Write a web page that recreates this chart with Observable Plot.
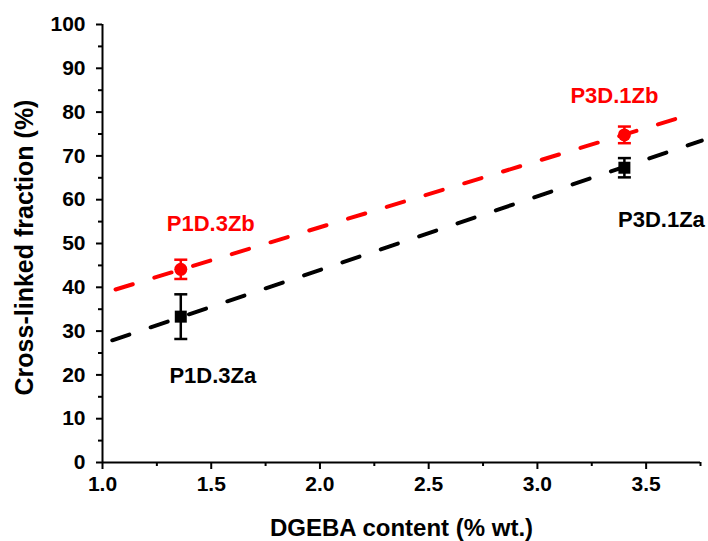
<!DOCTYPE html>
<html>
<head>
<meta charset="utf-8">
<script src="https://cdn.jsdelivr.net/npm/d3@7"></script>
<script src="https://cdn.jsdelivr.net/npm/@observablehq/plot@0.6"></script>
<style>
  html, body { margin: 0; padding: 0; background: #fff; }
  #chart svg { display: block; }
</style>
</head>
<body>
<div id="chart"></div>
<script>
// ---- data ----
const samples  = ["P1D.3Za", "P3D.1Za", "P1D.3Zb", "P3D.1Zb"];
const dgeba    = [1.36, 3.40, 1.36, 3.40];
const fraction = [33.3, 67.3, 44.1, 74.8];
const errors   = [5.1, 2.2, 2.2, 1.9];
const series   = ["a", "a", "b", "b"];

const fitAx = [1.045, 3.756];
const fitAy = [27.9, 73.5];
const fitBx = [1.06, 3.64];
const fitBy = [39.5, 78.5];

const xMajor = [1.0, 1.5, 2.0, 2.5, 3.0, 3.5];
const xMinor = [1.25, 1.75, 2.25, 2.75, 3.25, 3.75];
const yMajor = [0, 10, 20, 30, 40, 50, 60, 70, 80, 90, 100];
const yMinor = [5, 15, 25, 35, 45, 55, 65, 75, 85, 95];

const xTitle = "DGEBA content (% wt.)";
const yTitle = "Cross-linked fraction (%)";

// ---- build ----
const points = samples.map((s, i) => ({sample: s, x: dgeba[i], y: fraction[i], e: errors[i], series: series[i]}));
const fitA = fitAx.map((x, i) => ({x, y: fitAy[i]}));
const fitB = fitBx.map((x, i) => ({x, y: fitBy[i]}));
const colorOf = d => d.series === "b" ? "#ff0000" : "#000000";

const capSymbol = {
  draw(ctx, size) {
    const w = Math.sqrt(size / Math.PI);
    ctx.moveTo(-w, 0);
    ctx.lineTo(w, 0);
  }
};
const squareSymbol = {
  draw(ctx, size) {
    const w = Math.sqrt(size / Math.PI);
    ctx.rect(-w, -w, 2 * w, 2 * w);
  }
};

const A = points.filter(d => d.series === "a");
const B = points.filter(d => d.series === "b");
const lbl = name => points.filter(d => d.sample === name);
const labelStyle = {x: "x", y: "y", text: "sample", fontSize: 22, fontWeight: "bold", lineAnchor: "middle"};

const chart = Plot.plot({
  width: 708,
  height: 541,
  marginLeft: 102,
  marginRight: 8,
  marginTop: 24,
  marginBottom: 79,
  style: {fontFamily: "Arial, 'Liberation Sans', sans-serif", fontWeight: "bold", fontSize: "21px", color: "#000", background: "#fff"},
  x: {domain: [1, 3.75], axis: null},
  y: {domain: [0, 100], axis: null},
  marks: [
    // axes
    Plot.axisX({ticks: xMajor, tickSize: 7, tickPadding: 7, strokeWidth: 2, tickFormat: d3.format(".1f"), label: null, fontSize: 21}),
    Plot.axisX({ticks: xMinor, tickSize: 4, strokeWidth: 2, tickFormat: () => "", label: null}),
    Plot.axisY({ticks: yMajor, tickSize: 6, tickPadding: 11, strokeWidth: 2, tickFormat: d3.format("d"), label: null, fontSize: 21}),
    Plot.axisY({ticks: yMinor, tickSize: 4, strokeWidth: 2, tickFormat: () => "", label: null}),
    Plot.ruleY([0], {strokeWidth: 2}),
    Plot.ruleX([1], {strokeWidth: 2}),
    // fit lines
    Plot.line(fitA, {x: "x", y: "y", stroke: "#000", strokeWidth: 4, strokeDasharray: "18,22.5"}),
    Plot.line(fitB, {x: "x", y: "y", stroke: "#ff0000", strokeWidth: 4, strokeDasharray: "18,22.5"}),
    // error bars
    Plot.ruleX(points, {x: "x", y1: d => d.y - d.e, y2: d => d.y + d.e, stroke: colorOf, strokeWidth: 2.5}),
    Plot.dot(points, {x: "x", y: d => d.y - d.e, r: 6.5, symbol: capSymbol, stroke: colorOf, strokeWidth: 2.5, fill: "none"}),
    Plot.dot(points, {x: "x", y: d => d.y + d.e, r: 6.5, symbol: capSymbol, stroke: colorOf, strokeWidth: 2.5, fill: "none"}),
    // markers
    Plot.dot(A, {x: "x", y: "y", r: 6, symbol: squareSymbol, fill: "#000", stroke: "none"}),
    Plot.dot(B, {x: "x", y: "y", r: 6.5, fill: "#ff0000", stroke: "none"}),
    // point labels
    Plot.text(lbl("P1D.3Zb"), {...labelStyle, fill: "#ff0000", dx: 30, dy: -45}),
    Plot.text(lbl("P1D.3Za"), {...labelStyle, fill: "#000", dx: 32, dy: 59}),
    Plot.text(lbl("P3D.1Zb"), {...labelStyle, fill: "#ff0000", dx: -10, dy: -39}),
    Plot.text(lbl("P3D.1Za"), {...labelStyle, fill: "#000", dx: 37, dy: 52}),
    // axis titles
    Plot.text([xTitle], {frameAnchor: "bottom", text: d => d, dy: 66, fontSize: 24, fontWeight: "bold", lineAnchor: "middle", textAnchor: "middle"}),
    Plot.text([yTitle], {frameAnchor: "left", text: d => d, dx: -78, dy: 4, rotate: -90, fontSize: 25, fontWeight: "bold", lineAnchor: "middle", textAnchor: "middle"})
  ]
});

document.getElementById("chart").appendChild(chart);
</script>
</body>
</html>
